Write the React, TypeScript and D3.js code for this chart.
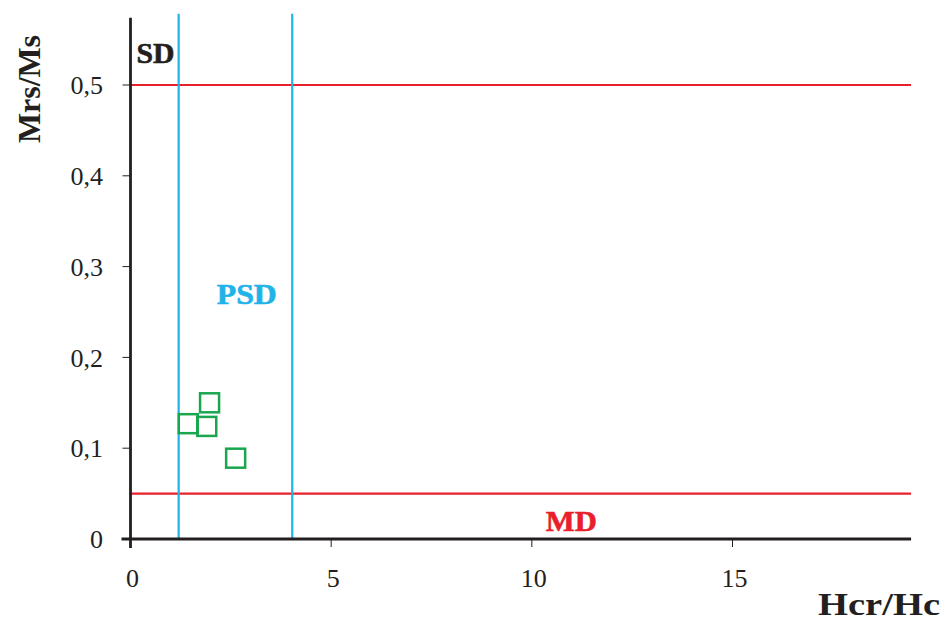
import React from "react";
import * as d3 from "d3";

const xTicks = [0, 5, 10, 15];
const yTicks = [0, 0.1, 0.2, 0.3, 0.4, 0.5];
const yTickLabels = ["0", "0,1", "0,2", "0,3", "0,4", "0,5"];
const hcrHc = [1.44, 1.9, 1.97, 2.62];
const mrsMs = [0.127, 0.124, 0.150, 0.089];
const verticalBounds = [1.2, 4.03];
const horizontalBounds = [0.5, 0.05];
const regionLabels = [
  { text: "SD", x: 0.15, y: 0.535, color: "#231f20", len: 38 },
  { text: "PSD", x: 2.15, y: 0.27, color: "#1fb3e8", len: 60 },
  { text: "MD", x: 10.35, y: 0.02, color: "#e8202a", len: 51 },
];

export default function App() {
  const W = 946, H = 622;
  const x = d3.scaleLinear().domain([0, 15]).range([130.5, 732.5]);
  const y = d3.scaleLinear().domain([0, 0.5]).range([539, 85]);
  const xMax = 19.45;
  const yMax = 0.574;
  const font = "'Liberation Serif', 'Times New Roman', Times, serif";
  const ink = "#231f20";
  return (
    <svg width={W} height={H} style={{ position: "absolute", left: 0, top: 0, fontFamily: font }}>
      <rect width={W} height={H} fill="#fff" />
      {horizontalBounds.map((v, i) => (
        <line key={"h" + i} x1={x(0)} x2={x(xMax)} y1={y(v)} y2={y(v)} stroke="#e8202a" strokeWidth={2.2} />
      ))}
      {verticalBounds.map((v, i) => (
        <line key={"v" + i} x1={x(v)} x2={x(v)} y1={y(yMax) - 4} y2={y(0)} stroke="#1fb3e8" strokeWidth={2.2} />
      ))}
      <line x1={x(0)} x2={x(0)} y1={y(yMax)} y2={y(0) + 9} stroke={ink} strokeWidth={2.8} />
      <line x1={x(0) - 9} x2={x(xMax)} y1={y(0)} y2={y(0)} stroke={ink} strokeWidth={2.8} />
      {yTicks.map((t, i) => (
        <g key={"yt" + i}>
          <line x1={x(0) - 8} x2={x(0)} y1={y(t)} y2={y(t)} stroke={ink} strokeWidth={1} />
          <text x={103} y={y(t)} dy="0.35em" textAnchor="end" fontSize={26} fill={ink}>
            {yTickLabels[i]}
          </text>
        </g>
      ))}
      {xTicks.map((t, i) => (
        <g key={"xt" + i}>
          <line x1={x(t)} x2={x(t)} y1={y(0)} y2={y(0) + 8} stroke={ink} strokeWidth={1} />
          <text x={x(t) + 2} y={578} dy="0.35em" textAnchor="middle" fontSize={26} fill={ink}>
            {t}
          </text>
        </g>
      ))}
      {regionLabels.map((l, i) => (
        <text key={"rl" + i} x={x(l.x)} y={y(l.y)} dy="0.35em" fontWeight="bold" fontSize={29}
          fill={l.color} stroke={l.color} strokeWidth={0.6} textLength={l.len} lengthAdjust="spacingAndGlyphs">
          {l.text}
        </text>
      ))}
      {hcrHc.map((v, i) => (
        <rect key={"p" + i} x={x(v) - 9.5} y={y(mrsMs[i]) - 9.5} width={19} height={19}
          fill="none" stroke="#1aa64f" strokeWidth={2.5} />
      ))}
      <text transform={`translate(40,89) rotate(-90)`} textAnchor="middle" fontWeight="bold"
        fontSize={31} fill={ink} textLength={108} lengthAdjust="spacingAndGlyphs">Mrs/Ms</text>
      <text x={818} y={615} fontWeight="bold" fontSize={31} fill={ink} textLength={122} lengthAdjust="spacingAndGlyphs">
        Hcr/Hc
      </text>
    </svg>
  );
}
